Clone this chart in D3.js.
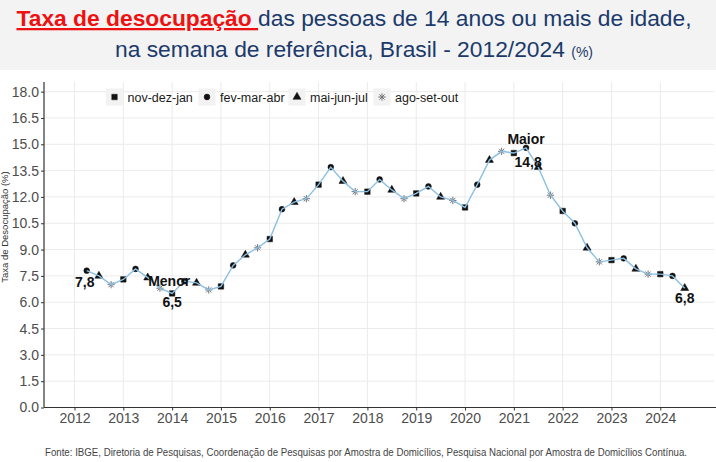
<!DOCTYPE html>
<html>
<head>
    <meta charset="utf-8">
    <title>Taxa de desocupação - Brasil 2012/2024</title>
    <style>
        body { margin: 0; background: white; }
        svg { display: block; font-family: Arial, "Liberation Sans", sans-serif; }
    </style>
</head>
<body>
    <div id="chart"></div>

    <script src="https://d3js.org/d3.v7.min.js"></script>
    <script>
    // Trimestres móveis (rótulos da legenda) e taxa de desocupação (%)
    const trimestres = ["fev-mar-abr", "mai-jun-jul", "ago-set-out", "nov-dez-jan"];
    const legendaOrdem = ["nov-dez-jan", "fev-mar-abr", "mai-jun-jul", "ago-set-out"];
    const inicio = 2012.25; // fev-mar-abr 2012
    const taxa = [
        7.8, 7.5, 7.0, 7.3,
        7.9, 7.4, 6.8, 6.5,
        7.2, 7.1, 6.7, 6.9,
        8.1, 8.7, 9.1, 9.6,
        11.3, 11.7, 11.9, 12.7,
        13.7, 12.9, 12.3, 12.3,
        13.0, 12.4, 11.9, 12.2,
        12.6, 12.0, 11.8, 11.4,
        12.7, 14.1, 14.6, 14.5,
        14.8, 13.7, 12.1, 11.2,
        10.5, 9.1, 8.3, 8.4,
        8.5, 7.9, 7.6, 7.6,
        7.5, 6.8
    ];
    const anos = d3.range(2012, 2025);
    const yTicks = d3.range(0, 18.01, 1.5);

    // pontos com rótulo: índice, texto, deslocamento
    const destaques = [
        {i: 0, text: "7,8", dx: -2, dy: 16},
        {i: 7, text: "Menor", dx: -3, dy: -7},
        {i: 7, text: "6,5", dx: 0, dy: 14},
        {i: 36, text: "Maior", dx: 0, dy: -4},
        {i: 36, text: "14,8", dx: 2, dy: 19},
        {i: 49, text: "6,8", dx: 0, dy: 15}
    ];

    const data = taxa.map((v, i) => ({
        t: inicio + i / 4,
        v: v,
        tri: trimestres[i % 4]
    }));

    const W = 716, H = 462;
    const svg = d3.select("#chart").append("svg")
        .attr("width", W)
        .attr("height", H);

    // fundo
    svg.append("rect").attr("width", W).attr("height", H).attr("fill", "white");
    svg.append("rect").attr("width", W).attr("height", 70).attr("fill", "#f3f3f3");

    // título
    const navy = "#1b3a6b";
    const t1 = svg.append("text")
        .attr("x", 354).attr("y", 26)
        .attr("text-anchor", "middle")
        .style("font-size", "22.8px");
    t1.append("tspan").attr("fill", "#ee1111").attr("font-weight", "bold")
        .attr("text-decoration", "underline")
        .text("Taxa de desocupação ");
    t1.append("tspan").attr("fill", navy).text("das pessoas de 14 anos ou mais de idade,");

    const t2 = svg.append("text")
        .attr("x", 354).attr("y", 57)
        .attr("text-anchor", "middle")
        .attr("fill", navy)
        .style("font-size", "22.8px");
    t2.append("tspan").text("na semana de referência, Brasil - 2012/2024 ");
    t2.append("tspan").style("font-size", "14px").text("(%)");

    // escalas
    const pLeft = 44, pRight = 714, pTop = 82, pBottom = 407.5;
    const x = d3.scaleLinear().domain([2011.375, 2025.1]).range([pLeft, pRight]);
    const y = d3.scaleLinear().domain([0, 18.55]).range([pBottom, pTop]);

    // grade
    svg.append("g").selectAll("line").data(yTicks).join("line")
        .attr("x1", pLeft).attr("x2", pRight)
        .attr("y1", d => y(d)).attr("y2", d => y(d))
        .attr("stroke", "#ebebeb").attr("stroke-width", 1);
    svg.append("g").selectAll("line").data(anos).join("line")
        .attr("x1", d => x(d)).attr("x2", d => x(d))
        .attr("y1", pTop).attr("y2", pBottom)
        .attr("stroke", "#ebebeb").attr("stroke-width", 1);

    // eixos
    const yAxis = svg.append("g")
        .attr("transform", `translate(${pLeft},0)`)
        .call(d3.axisLeft(y).tickValues(yTicks).tickFormat(d3.format(".1f")).tickSize(3).tickPadding(2));
    const xAxis = svg.append("g")
        .attr("transform", `translate(0,${pBottom})`)
        .call(d3.axisBottom(x).tickValues(anos).tickFormat(d3.format("d")).tickSize(3).tickPadding(3));
    [yAxis, xAxis].forEach(g => {
        g.select(".domain").attr("stroke", "#333").attr("stroke-width", 1.2);
        g.selectAll(".tick line").attr("stroke", "#333");
        g.selectAll(".tick text").attr("fill", "#4d4d4d")
            .style("font-size", "14px").style("font-family", "Arial, 'Liberation Sans', sans-serif");
    });
    yAxis.select(".domain").attr("d", `M0,${pTop}V${pBottom}`);
    xAxis.select(".domain").attr("d", `M${pLeft},0H${W}`);

    svg.append("text")
        .attr("transform", "translate(8,227) rotate(-90)")
        .attr("text-anchor", "middle")
        .attr("fill", "#333")
        .style("font-size", "9.5px")
        .text("Taxa de Desocupação (%)");

    // asterisco de 8 pontas (como o shape 8 do ggplot)
    const asterisco8 = {
        draw(ctx, size) {
            const r = Math.sqrt(size) * 0.55, s = r * Math.SQRT1_2;
            ctx.moveTo(0, -r); ctx.lineTo(0, r);
            ctx.moveTo(-r, 0); ctx.lineTo(r, 0);
            ctx.moveTo(-s, -s); ctx.lineTo(s, s);
            ctx.moveTo(-s, s); ctx.lineTo(s, -s);
        }
    };

    // símbolos
    const simbolo = {
        "nov-dez-jan": d3.symbol(d3.symbolSquare, 30),
        "fev-mar-abr": d3.symbol(d3.symbolCircle, 26),
        "mai-jun-jul": d3.symbol(d3.symbolTriangle, 28),
        "ago-set-out": d3.symbol(asterisco8, 44)
    };
    const corSimbolo = tri => tri === "ago-set-out" ? "#6f7378" : "#111";

    function drawSymbol(sel, tri) {
        sel.append("path")
            .attr("d", simbolo[tri]())
            .attr("fill", tri === "ago-set-out" ? "none" : corSimbolo(tri))
            .attr("stroke", corSimbolo(tri))
            .attr("stroke-width", tri === "ago-set-out" ? 1 : 0.5);
    }

    const pts = svg.append("g").selectAll("g").data(data).join("g")
        .attr("transform", d => `translate(${x(d.t)},${y(d.v)})`);
    pts.each(function(d) { drawSymbol(d3.select(this), d.tri); });

    // linha (por cima dos pontos)
    svg.append("path")
        .datum(data)
        .attr("fill", "none")
        .attr("stroke", "#8cc0e3")
        .attr("stroke-width", 1.4)
        .attr("d", d3.line().x(d => x(d.t)).y(d => y(d.v)));

    // rótulos
    svg.append("g").selectAll("text").data(destaques).join("text")
        .attr("x", d => x(data[d.i].t) + d.dx)
        .attr("y", d => y(data[d.i].v) + d.dy)
        .attr("text-anchor", "middle")
        .attr("font-weight", "bold")
        .attr("fill", "#111")
        .style("font-size", "14px")
        .text(d => d.text);

    // legenda
    const legX = [114.5, 207, 297, 382];
    const leg = svg.append("g").selectAll("g").data(legendaOrdem).join("g")
        .attr("transform", (d, i) => `translate(${legX[i]},97)`);
    leg.append("rect")
        .attr("x", -8.5).attr("y", -8.5).attr("width", 17).attr("height", 17)
        .attr("fill", "#f2f2f2");
    leg.each(function(d) { drawSymbol(d3.select(this), d); });
    leg.append("text")
        .attr("x", 13).attr("y", 4.5)
        .attr("fill", "#1a1a1a")
        .style("font-size", "12.5px")
        .text(d => d);

    // fonte
    svg.append("text")
        .attr("x", 366).attr("y", 456)
        .attr("text-anchor", "middle")
        .attr("fill", "#444")
        .attr("textLength", 642)
        .attr("lengthAdjust", "spacingAndGlyphs")
        .style("font-size", "10px")
        .text("Fonte: IBGE, Diretoria de Pesquisas, Coordenação de Pesquisas por Amostra de Domicílios, Pesquisa Nacional por Amostra de Domicílios Contínua.");
    </script>
</body>
</html>
